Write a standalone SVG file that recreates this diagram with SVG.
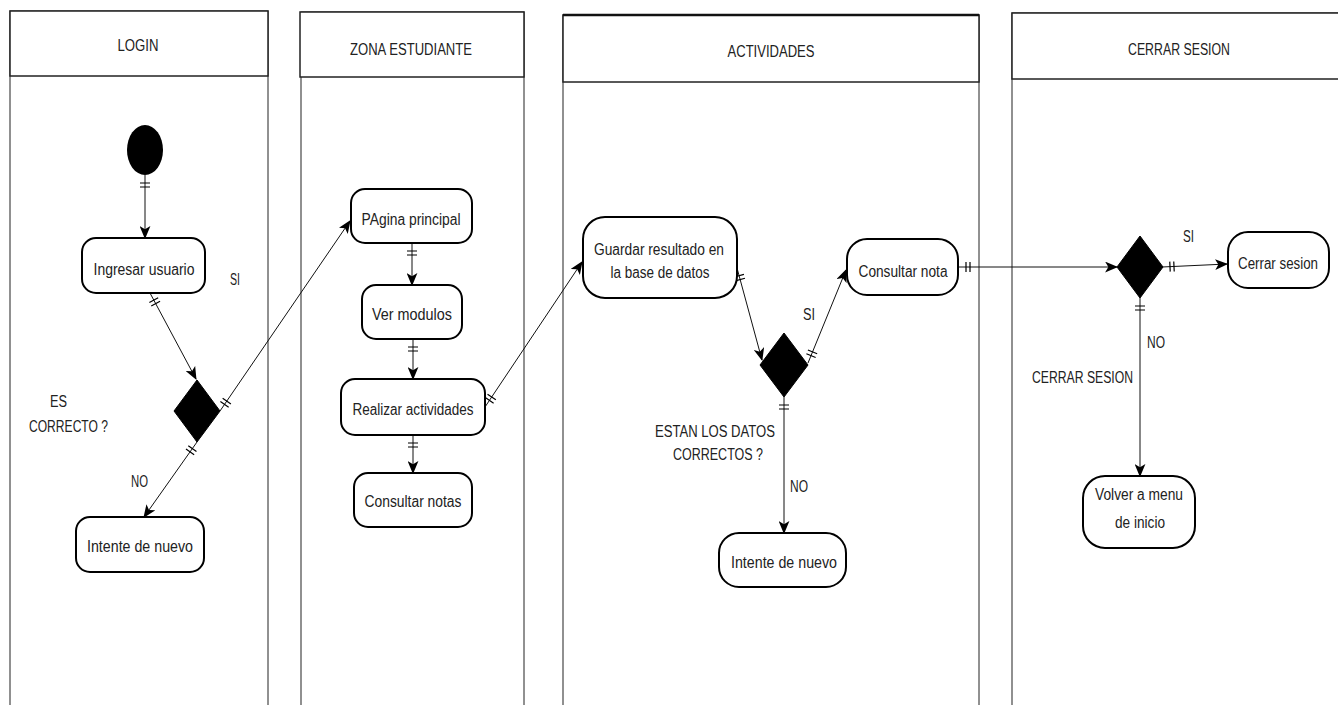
<svg xmlns="http://www.w3.org/2000/svg" width="1338" height="705" viewBox="0 0 1338 705">
  <style>
    text { font-family: "Liberation Sans", Arial, sans-serif; font-size: 16px; fill: #222; }
    .lane { fill: none; stroke: #222; stroke-width: 1; }
    .head { fill: #fff; stroke: #222; stroke-width: 1.5; }
    .mid { text-anchor: middle; }
    .act { fill: #fff; stroke: #000; stroke-width: 2; }
    .dec { fill: #000; stroke: #000; }
    .flow { fill: none; stroke: #111; stroke-width: 1; marker-start: url(#ticks); marker-end: url(#arrow); }
  </style>
  <defs>
    <marker id="arrow" viewBox="0 0 12 10" refX="11" refY="5" markerWidth="13" markerHeight="11" markerUnits="userSpaceOnUse" orient="auto">
      <path d="M0,0 L12,5 L0,10 L3,5 z" fill="#000"/>
    </marker>
    <marker id="ticks" viewBox="0 0 20 12" refX="0" refY="6" markerWidth="20" markerHeight="12" markerUnits="userSpaceOnUse" orient="auto">
      <path d="M8,1 L8,11 M12,1 L12,11" stroke="#000" stroke-width="1.2" fill="none"/>
    </marker>
  </defs>
  <rect width="1338" height="705" fill="#fff"/>

  <!-- swimlanes -->
  <g id="lane-login">
    <rect class="lane" x="10" y="11" width="258" height="700"/>
    <rect class="head" x="10" y="11" width="258" height="65"/>
    <text class="mid" x="138" y="51" textLength="41" lengthAdjust="spacingAndGlyphs">LOGIN</text>
  </g>
  <g id="lane-zona">
    <rect class="lane" x="301" y="12" width="223" height="700"/>
    <rect class="head" x="300" y="12" width="224" height="65"/>
    <text class="mid" x="411" y="55" textLength="122" lengthAdjust="spacingAndGlyphs">ZONA ESTUDIANTE</text>
  </g>
  <g id="lane-actividades">
    <rect class="lane" x="563" y="15" width="416" height="700"/>
    <rect class="head" x="563" y="15" width="416" height="67"/>
    <line x1="563" y1="15" x2="979" y2="15" stroke="#111" stroke-width="2.5"/>
    <text class="mid" x="771" y="57" textLength="87" lengthAdjust="spacingAndGlyphs">ACTIVIDADES</text>
  </g>
  <g id="lane-cerrar">
    <rect class="lane" x="1012" y="13" width="340" height="700"/>
    <rect class="head" x="1012" y="13" width="340" height="66"/>
    <text class="mid" x="1179" y="55" textLength="102" lengthAdjust="spacingAndGlyphs">CERRAR SESION</text>
  </g>

  <!-- connectors -->
  <g id="connectors">
    <path class="flow" d="M145,175 L145,238"/>
    <path class="flow" d="M150,293 L196,379"/>
    <path class="flow" d="M220,411 L350,221"/>
    <path class="flow" d="M197,442 L144,517"/>
    <path class="flow" d="M412,243 L412,285"/>
    <path class="flow" d="M413,339 L413,379"/>
    <path class="flow" d="M413,435 L413,473"/>
    <path class="flow" d="M485,407 L582,262"/>
    <path class="flow" d="M737,268 L762,360"/>
    <path class="flow" d="M808,363 L846,270"/>
    <path class="flow" d="M784,397 L784,533"/>
    <path class="flow" d="M958,267 L1117,267"/>
    <path class="flow" d="M1162,267 L1227,264"/>
    <path class="flow" d="M1140,298 L1140,476"/>
  </g>

  <!-- LOGIN lane nodes -->
  <g id="start">
    <ellipse cx="145" cy="150" rx="18" ry="25" fill="#000"/>
  </g>
  <g id="ingresar-usuario">
    <rect class="act" x="82" y="238" width="123" height="55" rx="14"/>
    <text class="mid" x="144" y="275" textLength="101" lengthAdjust="spacingAndGlyphs">Ingresar usuario</text>
  </g>
  <g id="es-correcto">
    <polygon class="dec" points="197,380 220,411 197,442 174,411"/>
    <text x="50" y="407" textLength="17" lengthAdjust="spacingAndGlyphs">ES</text>
    <text x="29" y="432" textLength="79" lengthAdjust="spacingAndGlyphs">CORRECTO ?</text>
    <text x="230" y="285" textLength="10" lengthAdjust="spacingAndGlyphs">SI</text>
    <text x="131" y="487" textLength="17" lengthAdjust="spacingAndGlyphs">NO</text>
  </g>
  <g id="intente-login">
    <rect class="act" x="76" y="517" width="128" height="55" rx="14"/>
    <text class="mid" x="140" y="552" textLength="106" lengthAdjust="spacingAndGlyphs">Intente de nuevo</text>
  </g>

  <!-- ZONA ESTUDIANTE lane nodes -->
  <g id="pagina-principal">
    <rect class="act" x="351" y="189" width="121" height="54" rx="14"/>
    <text class="mid" x="411" y="225" textLength="99" lengthAdjust="spacingAndGlyphs">PAgina principal</text>
  </g>
  <g id="ver-modulos">
    <rect class="act" x="362" y="285" width="100" height="54" rx="14"/>
    <text class="mid" x="412" y="320" textLength="80" lengthAdjust="spacingAndGlyphs">Ver modulos</text>
  </g>
  <g id="realizar-actividades">
    <rect class="act" x="341" y="379" width="144" height="56" rx="14"/>
    <text class="mid" x="413" y="415" textLength="121" lengthAdjust="spacingAndGlyphs">Realizar actividades</text>
  </g>
  <g id="consultar-notas">
    <rect class="act" x="354" y="473" width="118" height="54" rx="14"/>
    <text class="mid" x="413" y="507" textLength="97" lengthAdjust="spacingAndGlyphs">Consultar notas</text>
  </g>

  <!-- ACTIVIDADES lane nodes -->
  <g id="guardar-resultado">
    <rect class="act" x="583" y="217" width="154" height="81" rx="22"/>
    <text class="mid" x="659" y="255" textLength="130" lengthAdjust="spacingAndGlyphs">Guardar resultado en</text>
    <text class="mid" x="660" y="278" textLength="99" lengthAdjust="spacingAndGlyphs">la base de datos</text>
  </g>
  <g id="datos-correctos">
    <polygon class="dec" points="784,333 808,365 784,397 760,365"/>
    <text x="803" y="320" textLength="12" lengthAdjust="spacingAndGlyphs">SI</text>
    <text class="mid" x="715" y="437" textLength="120" lengthAdjust="spacingAndGlyphs">ESTAN LOS DATOS</text>
    <text class="mid" x="718" y="460" textLength="90" lengthAdjust="spacingAndGlyphs">CORRECTOS ?</text>
    <text x="790" y="492" textLength="18" lengthAdjust="spacingAndGlyphs">NO</text>
  </g>
  <g id="consultar-nota">
    <rect class="act" x="847" y="239" width="111" height="56" rx="20"/>
    <text class="mid" x="903" y="277" textLength="89" lengthAdjust="spacingAndGlyphs">Consultar nota</text>
  </g>
  <g id="intente-actividades">
    <rect class="act" x="719" y="533" width="127" height="54" rx="20"/>
    <text class="mid" x="784" y="568" textLength="106" lengthAdjust="spacingAndGlyphs">Intente de nuevo</text>
  </g>

  <!-- CERRAR SESION lane nodes -->
  <g id="cerrar-decision">
    <polygon class="dec" points="1140,236 1163,267 1140,298 1117,267"/>
    <text x="1183" y="242" textLength="11" lengthAdjust="spacingAndGlyphs">SI</text>
    <text x="1147" y="348" textLength="18" lengthAdjust="spacingAndGlyphs">NO</text>
    <text x="1032" y="383" textLength="101" lengthAdjust="spacingAndGlyphs">CERRAR SESION</text>
  </g>
  <g id="cerrar-sesion">
    <rect class="act" x="1228" y="232" width="101" height="56" rx="20"/>
    <text class="mid" x="1278" y="269" textLength="80" lengthAdjust="spacingAndGlyphs">Cerrar sesion</text>
  </g>
  <g id="volver-menu">
    <rect class="act" x="1083" y="476" width="112" height="72" rx="22"/>
    <text class="mid" x="1139" y="500" textLength="88" lengthAdjust="spacingAndGlyphs">Volver a menu</text>
    <text class="mid" x="1140" y="528" textLength="50" lengthAdjust="spacingAndGlyphs">de inicio</text>
  </g>
</svg>
